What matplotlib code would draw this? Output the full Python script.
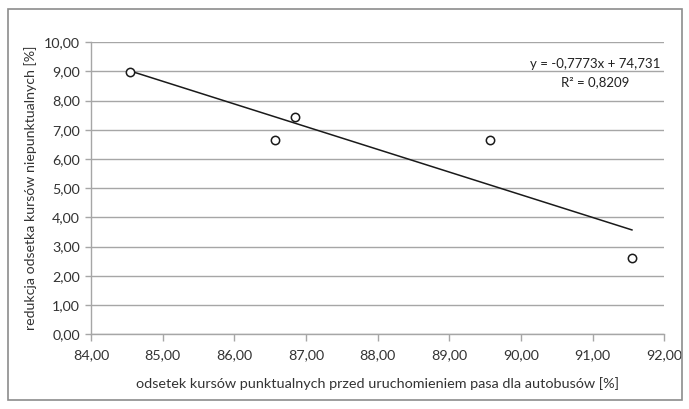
import matplotlib.pyplot as plt
from matplotlib.patches import Rectangle
from matplotlib.ticker import FuncFormatter, MultipleLocator

plt.rcParams['font.family'] = ['Lato', 'DejaVu Sans']

# punkty pomiarowe
x_punkt = [84.55, 86.57, 86.85, 89.57, 91.55]
y_redukcja = [8.97, 6.65, 7.43, 6.65, 2.60]

# linia trendu (liniowa)
slope = -0.7773
intercept = 74.731
trend_x = [min(x_punkt), max(x_punkt)]
trend_y = [slope * v + intercept for v in trend_x]

fig = plt.figure(figsize=(6.89, 4.09), dpi=100)
ax = fig.add_axes([0.132, 0.183, 0.832, 0.714])

ax.plot(trend_x, trend_y, color='#1a1a1a', lw=1.1, zorder=3)
ax.plot(x_punkt, y_redukcja, 'o', mfc='white', mec='#1a1a1a', mew=1.1, ms=6, zorder=4)

ax.set_xlim(84, 92)
ax.set_ylim(0, 10)
ax.xaxis.set_major_locator(MultipleLocator(1))
ax.yaxis.set_major_locator(MultipleLocator(1))
fmt = FuncFormatter(lambda v, p: f"{v:.2f}".replace('.', ','))
ax.xaxis.set_major_formatter(fmt)
ax.yaxis.set_major_formatter(fmt)

ax.grid(axis='y', color='#a6a6a6', lw=1)
ax.set_axisbelow(True)
for s in ['top', 'right']:
    ax.spines[s].set_visible(False)
for s in ['left', 'bottom']:
    ax.spines[s].set_color('#a6a6a6')
    ax.spines[s].set_linewidth(1)
ax.tick_params(axis='both', colors='#a6a6a6', labelcolor='#333333', labelsize=10.3, length=5, width=1)
ax.tick_params(axis='y', length=4, pad=4)
ax.tick_params(axis='x', pad=6)

ax.set_xlabel("odsetek kursów punktualnych przed uruchomieniem pasa dla autobusów [%]",
              fontsize=10.4, color='#333333', labelpad=11)
ax.set_ylabel("redukcja odsetka kursów niepunktualnych [%]", fontsize=10.2, color='#333333', labelpad=5)

ax.text(0.88, 0.925, "y = -0,7773x + 74,731", transform=ax.transAxes,
        ha='center', va='center', fontsize=9.5, color='#222222')
ax.text(0.88, 0.862, "R² = 0,8209", transform=ax.transAxes,
        ha='center', va='center', fontsize=9.5, color='#222222')

fig.patches.append(Rectangle((0.012, 0.022), 0.978, 0.955, transform=fig.transFigure,
                             fill=False, edgecolor='#8c8c8c', lw=1.2))

fig.savefig("out.png", dpi=100)
